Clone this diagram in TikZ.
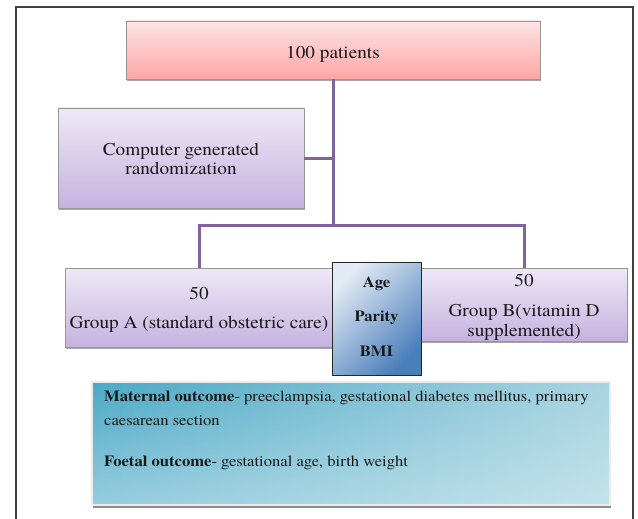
\documentclass[tikz,border=0pt]{standalone}
\usepackage{fontspec}
\setmainfont[FakeStretch=1.07]{TeX Gyre Termes}
\usetikzlibrary{shadows,fadings}
\definecolor{framecol}{RGB}{64,64,64}
\definecolor{linepurple}{RGB}{128,100,162}
\definecolor{boxborder}{RGB}{150,150,150}
\definecolor{pinktop}{RGB}{252,228,228}
\definecolor{pinkbot}{RGB}{255,165,165}
\definecolor{purptop}{RGB}{238,232,246}
\definecolor{purpbot}{RGB}{197,178,223}
\definecolor{agelight}{RGB}{226,234,244}
\definecolor{agedark}{RGB}{74,126,187}
\definecolor{tealdark}{RGB}{75,169,198}
\definecolor{tealmid}{RGB}{168,212,225}
\definecolor{teallight}{RGB}{226,241,246}
\definecolor{txt}{RGB}{25,25,25}
\tikzset{
  box/.style={draw=boxborder, line width=0.6pt, inner sep=0pt,
    drop shadow={shadow xshift=1.2pt, shadow yshift=-1.6pt, opacity=0.35, fill=black}},
  pinkbox/.style={box, top color=pinktop, bottom color=pinkbot},
  purplebox/.style={box, top color=purptop, bottom color=purpbot},
  boxtext/.style={inner sep=0pt, align=center, text=txt, font=\fontsize{18}{19.5}\selectfont},
  agebox/.style={draw=black!85, line width=0.8pt, inner sep=0pt,
    top color=agelight, bottom color=agedark, shading angle=45},
  agetext/.style={inner sep=0pt, align=center, text=txt, font=\fontsize{15.5}{17}\selectfont\bfseries},
  outbox/.style={inner sep=0pt, fill=tealdark,
    drop shadow={shadow xshift=1pt, shadow yshift=-2.5pt, opacity=0.45, fill=black}},
  outtext/.style={inner sep=0pt, align=left, text=txt, font=\fontsize{15.5}{24}\selectfont},
  conn/.style={draw=linepurple, line width=3pt},
  framestyle/.style={draw=framecol, line width=1.5pt}
}
\begin{document}
\begin{tikzpicture}[x=1pt,y=1pt]
\useasboundingbox (0,0) rectangle (638,-519);
\fill[white] (0,0) rectangle (638,-519);
\draw[framestyle] (16,-519) -- (16,-7) -- (633,-7) -- (633,-519);

\node[pinkbox, minimum width=414pt, minimum height=58pt] (top) at (333,-50) {};
\node[boxtext] (topt) at ([yshift=-4pt]top.center) {100 patients};
\node[purplebox, minimum width=246pt, minimum height=100pt] (comp) at (181,-158) {};
\node[boxtext] (compt) at ([yshift=-1pt]comp.center) {Computer generated\\randomization};
\node[purplebox, minimum width=268pt, minimum height=79pt] (ga) at (199,-307.5) {};
\node[boxtext] (gat) at ([yshift=-2pt]ga.center) {50\\[9.5pt]Group A (standard obstetric care)};
\node[purplebox, minimum width=206pt, minimum height=73pt] (gb) at (524,-304.5) {};
\node[boxtext] (gbt) at ([yshift=-3pt]gb.center) {50\\[10.5pt]Group B(vitamin D\\supplemented)};
\node[agebox, minimum width=89pt, minimum height=113pt] (age) at (376.5,-318.5) {};
\node[agetext] (aget) at ([yshift=2pt]age.center) {Age\\[17.5pt]Parity\\[17.5pt]BMI};

\coordinate (split) at (333,-225);
\draw[conn] (top.south) -- (split);
\draw[conn] (comp.east) -- (comp.east -| top.south);
\draw[conn] (ga.north) -- (ga.north |- split) -- (gb.north |- split) -- (gb.north);

\node[outbox, minimum width=518pt, minimum height=123pt] (out) at (351,-443.5) {};
\shade[left color=tealdark, right color=tealmid] (out.north west) rectangle (out.south east);
\fill[teallight, path fading=north, fill opacity=0.5] (out.north west) rectangle (out.south east);
\draw[black!8, line width=1.5pt] (out.north west) rectangle (out.south east);
\node[outtext, anchor=north west] (outt) at (104,-391)
  {\textbf{Maternal outcome}- preeclampsia, gestational diabetes mellitus, primary\\caesarean section\\[17pt]\textbf{Foetal outcome}- gestational age, birth weight};
\end{tikzpicture}
\end{document}
